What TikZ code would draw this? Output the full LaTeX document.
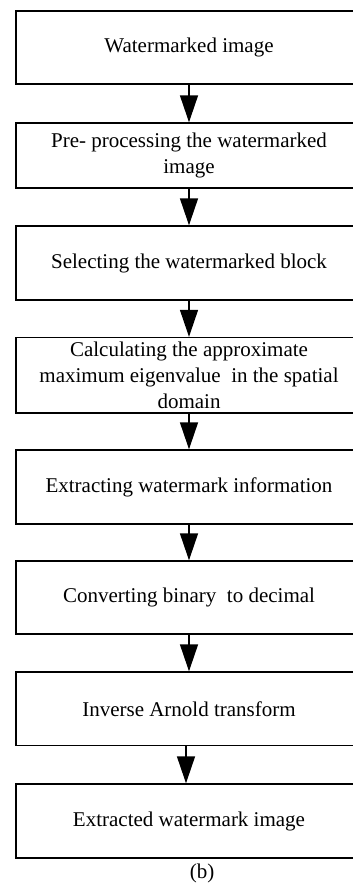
\documentclass[tikz,border=0pt]{standalone}
\usepackage{fontspec}
\setmainfont{Liberation Serif}
\usetikzlibrary{arrows.meta}
\tikzset{
  flowbox/.style={draw=black, line width=1.4pt, minimum width=346pt, align=center, inner sep=0pt,
    font=\fontsize{21pt}{26pt}\selectfont},
  flowarrow/.style={line width=1.4pt, -{Triangle[width=18pt,length=27pt]}},
}
\begin{document}
\begin{tikzpicture}[x=1pt,y=-1pt]
\useasboundingbox (0,0) rectangle (353,891);
\clip (0,0) rectangle (353,891);
\node[flowbox, minimum height=73pt]   (b1) at (189,47.5)   {Watermarked image};
\node[flowbox, minimum height=65pt]   (b2) at (189,155.5)  {Pre- processing the watermarked\\image};
\node[flowbox, minimum height=74pt]   (b3) at (189,263)    {Selecting the watermarked block};
\node[flowbox, minimum height=75.5pt] (b4) at (189,375.25) {Calculating the approximate\\maximum eigenvalue\ \ in the spatial\\domain};
\node[flowbox, minimum height=74pt]   (b5) at (189,487)    {Extracting watermark information};
\node[flowbox, minimum height=73pt]   (b6) at (189,597.5)  {Converting binary\ \ to decimal};
\node[flowbox, minimum height=73.5pt] (b7) at (189,708.75) {Inverse Arnold transform};
\node[flowbox, minimum height=74pt]   (b8) at (189,821)    {Extracted watermark image};
\node[font=\fontsize{21pt}{26pt}\selectfont, inner sep=0pt] (cap) at (202,873) {(b)};
\draw[flowarrow] (b1.south) -- (b2.north);
\draw[flowarrow] (b2.south) -- (b3.north);
\draw[flowarrow] (b3.south) -- (b4.north);
\draw[flowarrow] (b4.south) -- (b5.north);
\draw[flowarrow] (b5.south) -- (b6.north);
\draw[flowarrow] (b6.south) -- (b7.north);
\draw[flowarrow] ([xshift=-3pt]b7.south) -- ([xshift=-3pt]b8.north);
\end{tikzpicture}
\end{document}
